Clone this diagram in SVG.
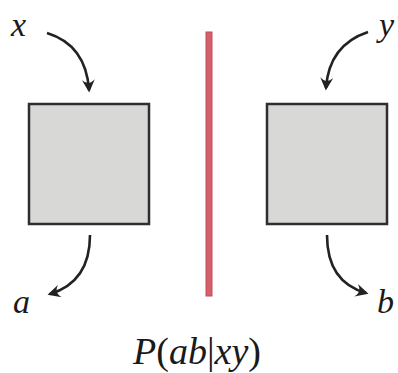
<svg xmlns="http://www.w3.org/2000/svg" width="398" height="373" viewBox="0 0 398 373">
<defs>
<style>
.box{fill:#d8d8d6;stroke:#2e2e2e;stroke-width:2.5}
.arr{fill:none;stroke:#222;stroke-width:2.6;marker-end:url(#ah)}
.lbl{font-family:"Liberation Serif","DejaVu Serif",serif;font-style:italic;font-size:34px;fill:#1a1a1a}
</style>
<marker id="ah" viewBox="0 0 10 10" refX="8" refY="5" markerWidth="5" markerHeight="5" orient="auto" markerUnits="strokeWidth">
<path d="M0,0 Q5,5 0,10 L10,5 Z" fill="#222"/>
</marker>
</defs>
<rect width="398" height="373" fill="#fff"/>
<g id="barrier"><rect x="206" y="32" width="6" height="264" fill="#d4606e" stroke="#c14a59" stroke-width="1"/></g>
<g id="boxA"><rect class="box" x="29" y="104" width="120" height="120"/></g>
<g id="boxB"><rect class="box" x="267" y="104" width="120" height="120"/></g>
<g id="connectors">
<path class="arr" d="M47,33 Q86,45 89,90"/>
<path class="arr" d="M368,32 Q329,45 326,88"/>
<path class="arr" d="M90,235 Q90,282 50,294"/>
<path class="arr" d="M327,235 Q327,282 366,293"/>
</g>
<g id="labels">
<text class="lbl" x="11" y="36">x</text>
<text class="lbl" x="379" y="36">y</text>
<text class="lbl" x="13" y="313">a</text>
<text class="lbl" x="377" y="313">b</text>
<text class="lbl" x="197" y="364" text-anchor="middle" style="font-size:38px">P<tspan font-style="normal">(</tspan>ab<tspan font-style="normal">|</tspan>xy<tspan font-style="normal">)</tspan></text>
</g>
</svg>
